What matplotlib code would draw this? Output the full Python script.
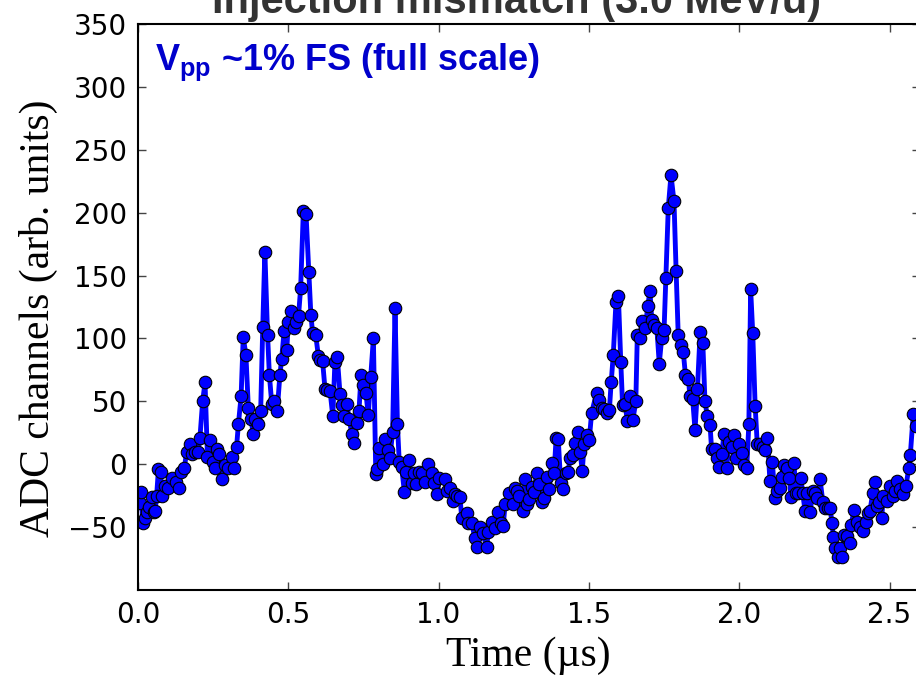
import matplotlib
matplotlib.use("Agg")
import matplotlib.pyplot as plt

# ---- data ----
time_us = [
    0.005, 0.010, 0.016, 0.023, 0.031, 0.037, 0.046, 0.052, 0.057, 0.062,
    0.068, 0.075, 0.080, 0.090, 0.100, 0.113, 0.125, 0.135, 0.143, 0.154,
    0.162, 0.172, 0.179, 0.190, 0.200, 0.206, 0.215, 0.223, 0.231, 0.240,
    0.248, 0.256, 0.264, 0.271, 0.278, 0.289, 0.300, 0.312, 0.319, 0.328,
    0.334, 0.343, 0.350, 0.359, 0.367, 0.375, 0.384, 0.389, 0.400, 0.408,
    0.415, 0.422, 0.431, 0.437, 0.445, 0.454, 0.463, 0.472, 0.478, 0.486,
    0.495, 0.500, 0.508, 0.519, 0.526, 0.534, 0.541, 0.550, 0.559, 0.568,
    0.575, 0.581, 0.591, 0.600, 0.605, 0.614, 0.622, 0.630, 0.639, 0.648,
    0.655, 0.663, 0.672, 0.680, 0.686, 0.694, 0.703, 0.711, 0.719, 0.727,
    0.735, 0.742, 0.750, 0.758, 0.766, 0.774, 0.783, 0.791, 0.796, 0.803,
    0.814, 0.823, 0.833, 0.838, 0.847, 0.855, 0.863, 0.869, 0.877, 0.886,
    0.892, 0.903, 0.910, 0.919, 0.925, 0.936, 0.944, 0.955, 0.966, 0.977,
    0.985, 0.996, 1.002, 1.021, 1.029, 1.038, 1.047, 1.055, 1.062, 1.071,
    1.077, 1.093, 1.099, 1.110, 1.121, 1.127, 1.138, 1.147, 1.160, 1.165,
    1.177, 1.188, 1.199, 1.207, 1.215, 1.221, 1.235, 1.246, 1.254, 1.262,
    1.269, 1.280, 1.287, 1.293, 1.302, 1.310, 1.317, 1.326, 1.335, 1.343,
    1.351, 1.360, 1.368, 1.376, 1.384, 1.391, 1.398, 1.406, 1.415, 1.424,
    1.431, 1.437, 1.446, 1.454, 1.463, 1.470, 1.478, 1.484, 1.493, 1.501,
    1.509, 1.526, 1.535, 1.543, 1.550, 1.559, 1.568, 1.574, 1.581, 1.590,
    1.598, 1.606, 1.612, 1.620, 1.628, 1.637, 1.646, 1.656, 1.661, 1.670,
    1.676, 1.687, 1.696, 1.703, 1.709, 1.717, 1.726, 1.734, 1.742, 1.750,
    1.756, 1.764, 1.773, 1.783, 1.790, 1.797, 1.805, 1.814, 1.821, 1.831,
    1.836, 1.845, 1.853, 1.861, 1.870, 1.879, 1.886, 1.894, 1.903, 1.908,
    1.919, 1.925, 1.934, 1.942, 1.949, 1.958, 1.967, 1.975, 1.983, 1.989,
    2.000, 2.008, 2.016, 2.025, 2.032, 2.038, 2.045, 2.053, 2.060, 2.069,
    2.078, 2.086, 2.094, 2.102, 2.110, 2.119, 2.127, 2.136, 2.141, 2.149,
    2.158, 2.167, 2.172, 2.182, 2.189, 2.197, 2.205, 2.211, 2.219, 2.227,
    2.236, 2.245, 2.252, 2.260, 2.269, 2.278, 2.285, 2.294, 2.302, 2.309,
    2.313, 2.318, 2.329, 2.336, 2.342, 2.349, 2.360, 2.369, 2.372, 2.383,
    2.391, 2.402, 2.413, 2.422, 2.429, 2.435, 2.444, 2.452, 2.457, 2.466,
    2.474, 2.479, 2.491, 2.502, 2.511, 2.518, 2.526, 2.535, 2.546, 2.555,
    2.564, 2.569, 2.579, 2.587,
]
adc = [
    -31, -22, -47, -43, -38, -34, -26, -38, -37, -25,
    -4, -6, -25, -17, -19, -11, -14, -19, -6, -3,
    10, 16, 8, 10, 10, 21, 50, 65, 6, 19,
    2, -3, 12, 8, -12, -1, -3, 6, -3, 14,
    32, 54, 101, 87, 45, 36, 24, 36, 32, 42,
    109, 169, 103, 71, 48, 50, 42, 71, 84, 106,
    91, 113, 122, 108, 113, 118, 140, 201, 199, 153,
    119, 104, 103, 86, 83, 82, 60, 59, 58, 38,
    81, 85, 56, 47, 38, 48, 36, 24, 17, 33,
    42, 71, 63, 57, 39, 69, 100, -8, -4, 13,
    0, 20, 11, 5, 26, 124, 32, 2, -2, -22,
    -6, 3, -15, -7, -16, -6, -7, -14, 0, -7,
    -15, -24, -11, -12, -21, -19, -29, -24, -25, -26,
    -43, -39, -47, -47, -59, -66, -50, -55, -66, -54,
    -46, -51, -38, -47, -49, -32, -23, -32, -19, -21,
    -25, -37, -12, -32, -28, -18, -22, -7, -16, -30,
    -27, -10, -20, 1, -7, 21, 20, -15, -20, -7,
    -6, 5, 7, 17, 26, 10, -5, 16, 23, 19,
    41, 57, 51, 45, 44, 41, 43, 65, 87, 129,
    134, 81, 47, 48, 34, 54, 35, 50, 103, 100,
    114, 108, 126, 138, 115, 111, 108, 80, 100, 107,
    148, 204, 230, 209, 154, 103, 95, 89, 71, 68,
    54, 52, 27, 60, 105, 96, 50, 38, 31, 12,
    12, 5, -2, 8, 24, -3, 18, 14, 23, 5,
    16, 9, -1, -3, 32, 139, 104, 46, 16, 16,
    14, 11, 21, -13, 2, -27, -21, -19, -10, -1,
    -3, -11, -26, 1, -23, -23, -11, -23, -37, -23,
    -38, -21, -23, -27, -12, -30, -35, -35, -35, -47,
    -58, -67, -74, -67, -74, -56, -57, -63, -48, -36,
    -46, -50, -53, -46, -39, -37, -23, -14, -33, -30,
    -43, -25, -29, -17, -25, -21, -13, -20, -24, -17,
    -3, 7, 40, 30,
]
assert len(time_us) == len(adc)

x_ticks = [0.0, 0.5, 1.0, 1.5, 2.0, 2.5]
x_ticklabels = ["0.0", "0.5", "1.0", "1.5", "2.0", "2.5"]
y_ticks = [-50, 0, 50, 100, 150, 200, 250, 300, 350]

title_text = "Injection mismatch (3.0 MeV/u)"
note_text = r"$\mathbf{V}_{\mathbf{pp}}$ ~1% FS (full scale)"
x_label = "Time (µs)"
y_label = "ADC channels (arb. units)"

plt.rcParams["mathtext.fontset"] = "custom"
plt.rcParams["mathtext.bf"] = "Liberation Sans:bold"
plt.rcParams["mathtext.rm"] = "Liberation Sans"

W, H = 916, 677
fig = plt.figure(figsize=(W / 100, H / 100), dpi=100)
ax = fig.add_axes([138 / W, 87 / H, 781.6 / W, 566 / H])

ax.plot(time_us, adc, "-o", color="#0000ff", lw=3.5, ms=9,
        mfc="#0000ff", mec="black", mew=0.8, clip_on=True)

ax.set_xlim(0, 2.6)
ax.set_ylim(-100, 350)
ax.set_xticks(x_ticks)
ax.set_xticklabels(x_ticklabels)
ax.set_yticks(y_ticks)
ax.tick_params(direction="in", top=True, right=True, length=6, width=1,
               labelsize=20, pad=8, color="#444444")
for sp in ax.spines.values():
    sp.set_linewidth(1.5)

ax.set_xlabel(x_label, fontfamily="Liberation Serif", fontsize=30)
ax.set_ylabel(y_label, fontfamily="Liberation Serif", fontsize=30)
ax.xaxis.set_label_coords((528 - 138) / 781.6, (590 - 656) / 566)
ax.xaxis.label.set_va("center")
ax.yaxis.set_label_coords((38 - 138) / 781.6, (590 - 318) / 566)
ax.yaxis.label.set_va("center")

ax.text((155 - 138) / 781.6, (590 - 70) / 566, note_text, transform=ax.transAxes,
        color="#0000cc", fontsize=26, fontweight="bold",
        fontfamily="Liberation Sans", va="baseline", ha="left")

fig.text(517 / W, 1 - 13 / H, title_text, ha="center", va="baseline",
         fontsize=30, fontweight="bold", color="#333333",
         fontfamily="Liberation Sans")

fig.savefig("out.png", dpi=100)
